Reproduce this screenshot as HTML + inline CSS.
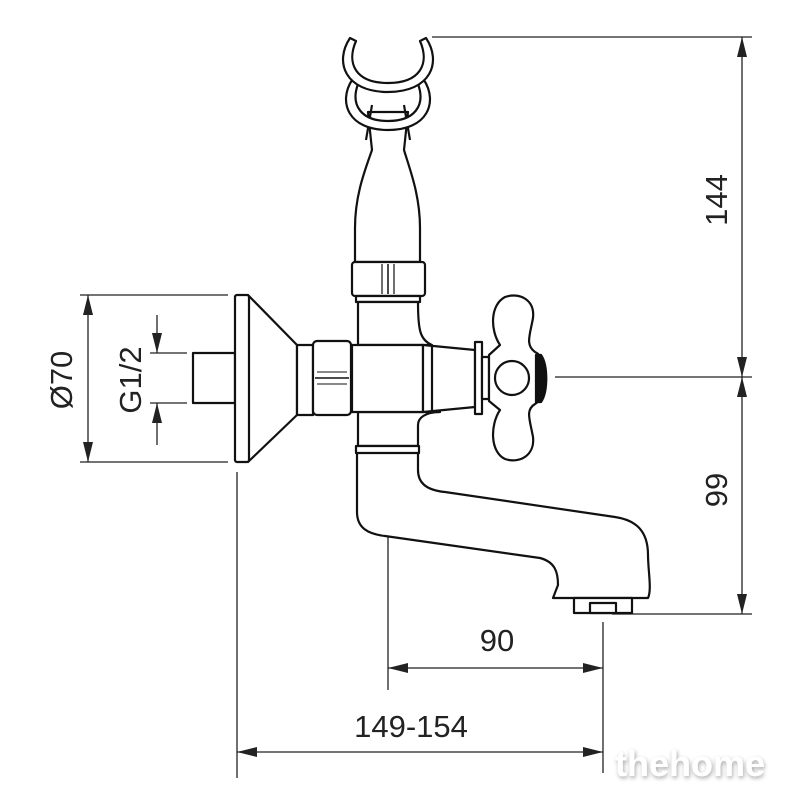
<!DOCTYPE html>
<html><head><meta charset="utf-8"><style>
html,body{margin:0;padding:0;background:#fff;}
svg{display:block;}
text{font-family:"Liberation Sans",sans-serif;fill:#222;}
</style></head><body>
<svg width="791" height="800" viewBox="0 0 791 800" xmlns="http://www.w3.org/2000/svg">
<defs>
<marker id="a" viewBox="0 0 20 10" refX="20" refY="5" markerWidth="20" markerHeight="10" orient="auto" markerUnits="userSpaceOnUse"><path d="M0,0 L20,5 L0,10Z" fill="#222"/></marker>
<filter id="sh" x="-10%" y="-30%" width="130%" height="170%"><feGaussianBlur in="SourceAlpha" stdDeviation="2"/><feOffset dx="1" dy="2"/><feComponentTransfer><feFuncA type="linear" slope="0.35"/></feComponentTransfer><feMerge><feMergeNode/><feMergeNode in="SourceGraphic"/></feMerge></filter>
</defs>
<g stroke="#222" stroke-width="1.3" fill="none">
<line x1="432" y1="37" x2="752" y2="37"/>
<line x1="555" y1="377" x2="752" y2="377"/>
<line x1="612" y1="614" x2="752" y2="614"/>
<line x1="80" y1="295" x2="228" y2="295"/>
<line x1="80" y1="462" x2="228" y2="462"/>
<line x1="150" y1="353" x2="187" y2="353"/>
<line x1="150" y1="403" x2="187" y2="403"/>
<line x1="237" y1="472" x2="237" y2="778"/>
<line x1="388" y1="456" x2="388" y2="690"/>
<line x1="603" y1="622" x2="603" y2="773"/>
<line x1="742" y1="200" x2="742" y2="37" marker-end="url(#a)"/>
<line x1="742" y1="200" x2="742" y2="377" marker-end="url(#a)"/>
<line x1="742" y1="490" x2="742" y2="377" marker-end="url(#a)"/>
<line x1="742" y1="490" x2="742" y2="614" marker-end="url(#a)"/>
<line x1="88" y1="380" x2="88" y2="295" marker-end="url(#a)"/>
<line x1="88" y1="380" x2="88" y2="462" marker-end="url(#a)"/>
<line x1="157" y1="315" x2="157" y2="353" marker-end="url(#a)"/>
<line x1="157" y1="445" x2="157" y2="403" marker-end="url(#a)"/>
<line x1="495" y1="668" x2="388" y2="668" marker-end="url(#a)"/>
<line x1="495" y1="668" x2="603" y2="668" marker-end="url(#a)"/>
<line x1="420" y1="752" x2="237" y2="752" marker-end="url(#a)"/>
<line x1="420" y1="752" x2="603" y2="752" marker-end="url(#a)"/>
</g>
<g stroke="#111" stroke-width="2.2" fill="#fff" stroke-linejoin="round">
<!-- holder neck -->
<path d="M368,112 L372,150 C365,170 355,195 355,228 L355,262 L420,262 L420,228 C420,195 410,170 404,150 L408,112Z"/>
<path d="M372,105 L366,140 M404,105 L410,140" fill="none"/>
<!-- lower ring -->
<path d="M352,80 C338,102 348,130 388,130 C428,130 438,102 424,80 L418,84 C426,106 414,121 388,121 C362,121 350,106 358,84Z"/>
<!-- upper cup -->
<path d="M350,38 C334,62 345,92 388,92 C431,92 442,62 426,38 L420,41 C430,64 420,83 388,83 C356,83 346,64 356,41Z"/>
<!-- nut -->
<rect x="352" y="262" width="73" height="34" rx="3"/>
<line x1="388" y1="264" x2="388" y2="294" stroke-width="1.5"/>
<line x1="382" y1="264" x2="382" y2="294" stroke-width="1.2"/>
<line x1="394" y1="264" x2="394" y2="294" stroke-width="1.2"/>
<rect x="356" y="296" width="64" height="6"/>
<path d="M358,302 L358,345 L432,345 C420,340 418,330 418,302Z"/>
<path d="M358,412 L358,446 L418,446 L418,425 C418,418 425,412 440,412Z"/>
<path d="M357,452 L357,512 C357,528 368,534 385,536 L540,558 C555,562 558,572 558,585 L553,598 L648,598 C652,590 648,570 648,555 C648,530 635,520 615,517 L445,492 C425,490 418,482 418,470 L418,452Z"/>
<rect x="356" y="446" width="63" height="7"/>
<rect x="574" y="598" width="58" height="15"/>
<rect x="590" y="603" width="26" height="10"/>
<rect x="193" y="353" width="42" height="50"/>
<path d="M248,295 L297,345 L297,415 L248,462Z"/>
<rect x="235" y="295" width="14" height="167" rx="2"/>
<rect x="297" y="345" width="16" height="70"/>
<rect x="313" y="341" width="38" height="74" rx="4"/>
<line x1="315" y1="378" x2="349" y2="378" stroke-width="1.5"/>
<line x1="317" y1="372" x2="347" y2="372" stroke-width="1"/>
<line x1="317" y1="384" x2="347" y2="384" stroke-width="1"/>
<rect x="352" y="345" width="71" height="67"/>
<path d="M423,345 L475,350 L475,407 L423,412Z"/>
<line x1="432" y1="346" x2="432" y2="411"/>
<rect x="475" y="342" width="7" height="72"/>
<rect x="482" y="357" width="7" height="42"/>
<path d="M489,355 L500,345 C490,330 490,305 505,297 C520,292 535,300 533,318 C530,335 525,345 535,352 C542,355 546,365 546,378 C546,392 542,400 535,404 C525,410 530,420 533,437 C535,455 520,464 505,459 C490,452 490,425 500,410 L489,401Z"/>
<path d="M541,355 C548,365 548,392 541,402 L536,402 L536,355Z" fill="#111"/>
<circle cx="512" cy="378" r="17"/>
</g>
<g font-size="31">
<text x="497" y="651" text-anchor="middle">90</text>
<text x="411" y="737" text-anchor="middle">149-154</text>
<text transform="translate(727,200) rotate(-90)" text-anchor="middle">144</text>
<text transform="translate(727,490) rotate(-90)" text-anchor="middle">99</text>
<text transform="translate(72,380) rotate(-90)" text-anchor="middle">Ø70</text>
<text transform="translate(141,380) rotate(-90)" text-anchor="middle">G1/2</text>
</g>
<text x="690" y="776" text-anchor="middle" font-size="36" font-weight="bold" style="fill:#fff" filter="url(#sh)">thehome</text>
</svg>
</body></html>
